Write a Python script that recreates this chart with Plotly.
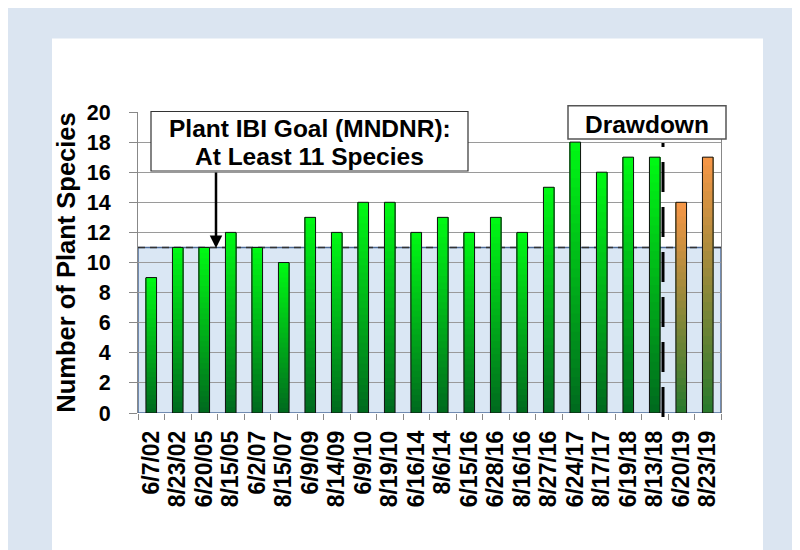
import plotly.graph_objects as go

# ---- data ----
dates = ["6/7/02", "8/23/02", "6/20/05", "8/15/05", "6/2/07", "8/15/07", "6/9/09",
         "8/14/09", "6/9/10", "8/19/10", "6/16/14", "8/6/14", "6/15/16", "6/28/16",
         "8/16/16", "8/27/16", "6/24/17", "8/17/17", "6/19/18", "8/13/18",
         "6/20/19", "8/23/19"]
species = [9, 11, 11, 12, 11, 10, 13, 12, 14, 14, 12, 13, 12, 13, 12, 15, 18, 16,
           17, 17, 14, 17]
after_drawdown = [False] * 20 + [True] * 2
goal_species = 11
y_ticks = list(range(0, 21, 2))

# ---- layout geometry (page has an 8px body margin) ----
OFF = 8
W, H = 792, 542
L, T = 138 - OFF, 112 - OFF
R = W - (721 - OFF)
B = H - (413 - OFF)
PW, PH = W - L - R, H - T - B


def px(x):
    return (x - OFF - L) / PW


def py(y):
    return 1 - (y - OFF - T) / PH


FONT = "Liberation Sans, Arial, sans-serif"

# colour ramps (bottom -> top)
GREEN = ((0, 105, 30), (0, 250, 20))
ORANGE = ((40, 122, 45), (247, 150, 70))


def lerp(c0, c1, t):
    return "rgb(%d,%d,%d)" % tuple(round(a + (b - a) * t) for a, b in zip(c0, c1))


fig = go.Figure()
N = 30
for k in range(N):
    t = (k + 0.5) / N
    cols = [lerp(*(ORANGE if a else GREEN), t) for a in after_drawdown]
    fig.add_trace(go.Bar(
        x=dates, y=[v * (N - k) / N for v in species], base=[v * k / N for v in species],
        width=0.4, marker=dict(color=cols, line=dict(width=0)),
        hoverinfo="skip", showlegend=False))
# outline
fig.add_trace(go.Bar(
    x=dates, y=species, width=0.4,
    marker=dict(color="rgba(0,0,0,0)", line=dict(color="#111111", width=1)),
    showlegend=False, name="Species"))

shapes = [
    dict(type="rect", xref="paper", yref="paper", x0=px(0), x1=px(810), y0=py(0), y1=py(560),
         fillcolor="#dbe5f1", line=dict(width=0), layer="below"),
    dict(type="rect", xref="paper", yref="paper", x0=px(52), x1=px(763), y0=py(38.5), y1=py(560),
         fillcolor="white", line=dict(width=0), layer="below"),
    dict(type="rect", xref="paper", yref="y", x0=0, x1=1, y0=0, y1=goal_species,
         fillcolor="#dae7f4", line=dict(color="#4f6d9a", width=1.5), layer="below"),
    dict(type="line", xref="paper", yref="y", x0=0, x1=1, y0=goal_species, y1=goal_species,
         line=dict(color="#333333", width=1.5, dash="7px,5px"), layer="below"),
    dict(type="rect", xref="paper", yref="paper", x0=px(151), x1=px(468), y0=py(171), y1=py(111.5),
         fillcolor="white", line=dict(color="#333333", width=1.2), layer="above"),
    dict(type="rect", xref="paper", yref="paper", x0=px(568), x1=px(726), y0=py(139), y1=py(105.7),
         fillcolor="white", line=dict(color="#555555", width=1.5), layer="above"),
    dict(type="line", xref="paper", yref="paper", x0=px(663), x1=px(663), y0=py(417), y1=py(143),
         line=dict(color="black", width=3, dash="30px,15px"), layer="above"),
]

annotations = [
    dict(xref="paper", yref="paper", x=px(309.5), y=py(128), text="Plant IBI Goal (MNDNR):",
         showarrow=False, xanchor="center", yanchor="middle",
         font=dict(family=FONT, size=24.5, color="black", weight="bold")),
    dict(xref="paper", yref="paper", x=px(309.5), y=py(156.5), text="At Least 11 Species",
         showarrow=False, xanchor="center", yanchor="middle",
         font=dict(family=FONT, size=24.5, color="black", weight="bold")),
    dict(xref="paper", yref="paper", x=px(216), y=py(248), text="", showarrow=True,
         ax=0, ay=-(248 - 171), arrowhead=2, arrowsize=1, arrowwidth=2.5,
         arrowcolor="black", standoff=0, startstandoff=0),
    dict(xref="paper", yref="paper", x=px(646.5), y=py(124), text="Drawdown",
         showarrow=False, xanchor="center", yanchor="middle",
         font=dict(family=FONT, size=24.5, color="black", weight="bold")),
]

fig.update_layout(
    width=W, height=H, margin=dict(l=L, r=R, t=T, b=B, pad=0, autoexpand=False),
    paper_bgcolor="white", plot_bgcolor="rgba(0,0,0,0)",
    barmode="overlay", showlegend=False,
    font=dict(family=FONT, color="black"),
    shapes=shapes, annotations=annotations,
    xaxis=dict(type="category", range=[-0.5, len(dates) - 0.5], tickangle=-90,
               tickmode="array", tickvals=dates, ticktext=dates,
               tickfont=dict(family=FONT, size=23, color="black", weight="bold"),
               ticks="outside", ticklen=6, tickcolor="#888888", tickson="boundaries",
               showgrid=False, showline=False, zeroline=False, ticklabelstandoff=12),
    yaxis=dict(range=[0, 20], tickvals=y_ticks, showgrid=True, gridcolor="#9a9a9a",
               gridwidth=1, ticks="outside", ticklen=8, tickcolor="#888888",
               showline=True, linecolor="#888888", mirror=True, zeroline=False,
               tickfont=dict(family=FONT, size=21.5, color="black", weight="bold"),
               ticklabelstandoff=14,
               title=dict(text="Number of Plant Species", standoff=3,
                          font=dict(family=FONT, size=25.5, color="black", weight="bold"))),
)

fig.write_html("out.html")
